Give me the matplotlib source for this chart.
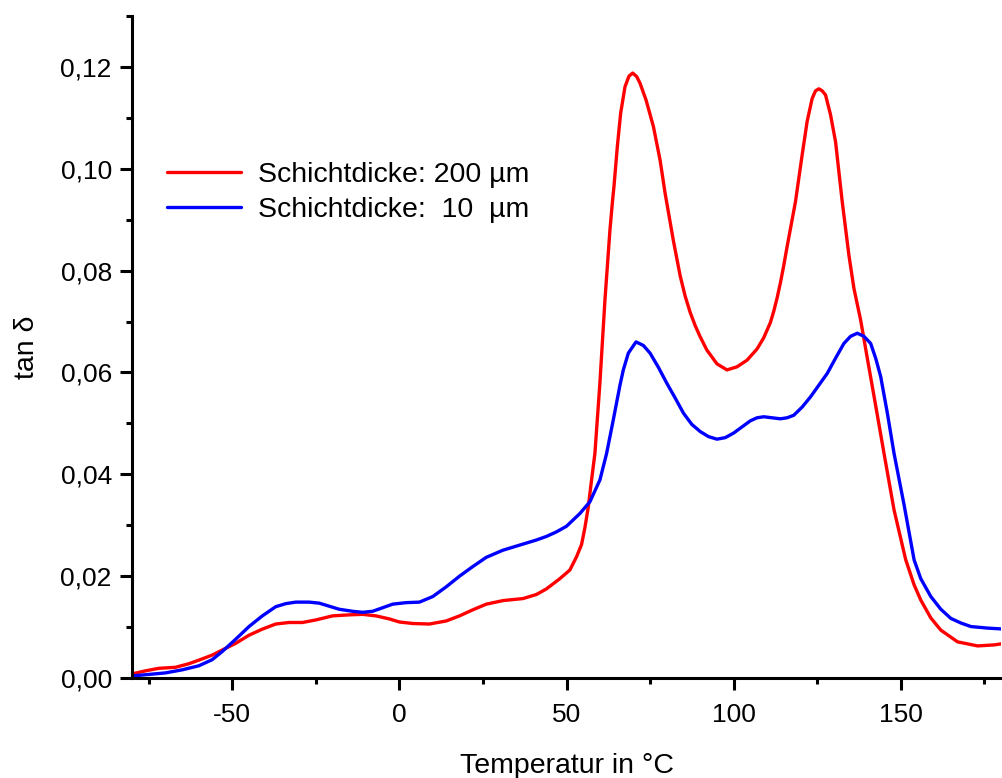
import matplotlib
matplotlib.use("Agg")
import matplotlib.pyplot as plt
from matplotlib.ticker import MultipleLocator, FuncFormatter

plt.rcParams['font.family'] = ['Liberation Sans', 'DejaVu Sans']

# tan delta vs. temperature, 200 um layer
temp_200 = [-80, -76, -72, -67, -63, -60, -56, -53, -49, -45, -41, -37, -33, -29, -25,
            -20, -15, -11, -7, -3, 0, 4, 9, 14, 18, 22, 26, 31, 34, 37, 41, 44, 48, 51,
            53, 54.5, 55.5, 56.5, 57.5, 58.5, 60, 61.5, 63, 63.8, 64.2, 65.2, 66.2, 67.5,
            68.7, 69.8, 71, 72, 73.8, 76, 78, 79.5, 82, 84, 85.5, 87, 88.5, 90, 92, 95,
            98, 101, 104, 107, 109, 111, 112, 113, 114, 115, 116, 118.5, 120.5, 122,
            123.5, 124.5, 125.5, 126.5, 127.5, 129, 130.5, 132.5, 134.5, 136, 138, 140,
            142.5, 145, 148, 151.5, 154, 156, 159, 162, 167, 173, 178, 181]
tan_200 = [0.0008, 0.0014, 0.0019, 0.0021, 0.0028, 0.0035, 0.0045, 0.0055, 0.0068, 0.0084,
           0.0096, 0.0106, 0.0109, 0.0109, 0.0114, 0.0122, 0.0124, 0.0125, 0.0122, 0.0116,
           0.0110, 0.0107, 0.0106, 0.0112, 0.0122, 0.0134, 0.0145, 0.0152, 0.0154, 0.0156,
           0.0164, 0.0175, 0.0195, 0.0212, 0.0238, 0.0262, 0.0295, 0.0335, 0.0389, 0.0441,
           0.0580, 0.0742, 0.0880, 0.0939, 0.0965, 0.1043, 0.1109, 0.1161, 0.1182, 0.1188,
           0.1181, 0.1168, 0.1135, 0.1083, 0.1017, 0.0952, 0.0858, 0.0790, 0.0750, 0.0718,
           0.0692, 0.0670, 0.0644, 0.0617, 0.0605, 0.0611, 0.0624, 0.0646, 0.0668, 0.0698,
           0.0720, 0.0746, 0.0776, 0.0810, 0.0847, 0.0935, 0.1027, 0.1093, 0.1138, 0.1153,
           0.1157, 0.1153, 0.1145, 0.1106, 0.1053, 0.0935, 0.0830, 0.0765, 0.0703, 0.0628,
           0.0535, 0.0441, 0.0330, 0.0232, 0.0183, 0.0153, 0.0118, 0.0094, 0.0071, 0.0063,
           0.0065, 0.0068]

# tan delta vs. temperature, 10 um layer
temp_10 = [-80, -75, -70, -65, -60, -56, -53, -49, -45, -41, -37, -34, -31, -27, -24, -21,
           -18, -14, -11, -8, -5, -2, 2, 6, 10, 14, 18, 22, 26, 31, 36, 41, 44, 47, 50, 54,
           57, 60, 62, 64, 66, 67, 68.5, 70.8, 73, 75, 77.5, 80, 82.5, 85, 87.5, 90, 92.5,
           95, 97.5, 100, 102.5, 105, 107, 109, 111.5, 114, 116, 118, 120.5, 123, 125.5,
           128, 130.5, 133, 135, 137, 139, 141, 142.5, 144, 146, 148, 151, 154, 156, 159,
           162, 165, 168, 171, 176, 181]
tan_10 = [0.0004, 0.0007, 0.0010, 0.0016, 0.0024, 0.0036, 0.0052, 0.0076, 0.0101, 0.0122,
          0.0140, 0.0146, 0.0149, 0.0149, 0.0147, 0.0141, 0.0135, 0.0131, 0.0129, 0.0131,
          0.0138, 0.0145, 0.0148, 0.0149, 0.0160, 0.0179, 0.0200, 0.0219, 0.0237, 0.0251,
          0.0261, 0.0271, 0.0278, 0.0287, 0.0298, 0.0323, 0.0346, 0.0389, 0.0441, 0.0507,
          0.0575, 0.0605, 0.0638, 0.0660, 0.0653, 0.0638, 0.0610, 0.0579, 0.0550, 0.0520,
          0.0498, 0.0484, 0.0474, 0.0469, 0.0472, 0.0481, 0.0493, 0.0505, 0.0511, 0.0513,
          0.0511, 0.0509, 0.0511, 0.0516, 0.0532, 0.0552, 0.0575, 0.0598, 0.0628, 0.0657,
          0.0671, 0.0677, 0.0671, 0.0657, 0.0628, 0.0592, 0.0520, 0.0441, 0.0340, 0.0232,
          0.0195, 0.0160, 0.0135, 0.0117, 0.0108, 0.0101, 0.0098, 0.0096]

label_200 = "Schichtdicke: 200 µm"
label_10 = "Schichtdicke:  10  µm"

fig = plt.figure(figsize=(10.03, 7.78), dpi=100)
ax = fig.add_axes([132 / 1003, 1 - 678 / 778, (1001 - 132) / 1003, (678 - 16) / 778])

ax.plot(temp_200, tan_200, color='#ff0000', lw=2.4, label=label_200,
        solid_joinstyle='round', solid_capstyle='round')
ax.plot(temp_10, tan_10, color='#0000ff', lw=2.4, label=label_10,
        solid_joinstyle='round', solid_capstyle='round')

ax.set_xlim(-80, 180)
ax.set_ylim(0, 0.13)
ax.xaxis.set_major_locator(MultipleLocator(50))
ax.xaxis.set_minor_locator(MultipleLocator(25))
ax.yaxis.set_major_locator(MultipleLocator(0.02))
ax.yaxis.set_minor_locator(MultipleLocator(0.01))
ax.yaxis.set_major_formatter(FuncFormatter(lambda v, p: f"{v:.2f}".replace('.', ',')))
ax.xaxis.set_major_formatter(FuncFormatter(lambda v, p: f"{v:.0f}"))

for side in ('top', 'right'):
    ax.spines[side].set_visible(False)
for side in ('left', 'bottom'):
    ax.spines[side].set_linewidth(2.2)

ax.tick_params(which='major', direction='out', length=8.5, width=2.2, labelsize=19)
ax.tick_params(which='minor', direction='out', length=4.3, width=2.2)
ax.tick_params(axis='x', which='major', pad=9.5)
ax.tick_params(axis='y', which='major', pad=6)

ax.set_xlabel("Temperatur in °C", fontsize=20.5, labelpad=19)
ax.set_ylabel("tan δ", fontsize=20.5, labelpad=15)

leg = ax.legend(loc='upper left', bbox_to_anchor=(167 / 1003, 1 - 162 / 778),
                bbox_transform=fig.transFigure, frameon=False, fontsize=20.5,
                handlelength=2.6, handletextpad=0.6, labelspacing=0.3,
                borderpad=0, borderaxespad=0)

fig.savefig("out.png", dpi=100)
